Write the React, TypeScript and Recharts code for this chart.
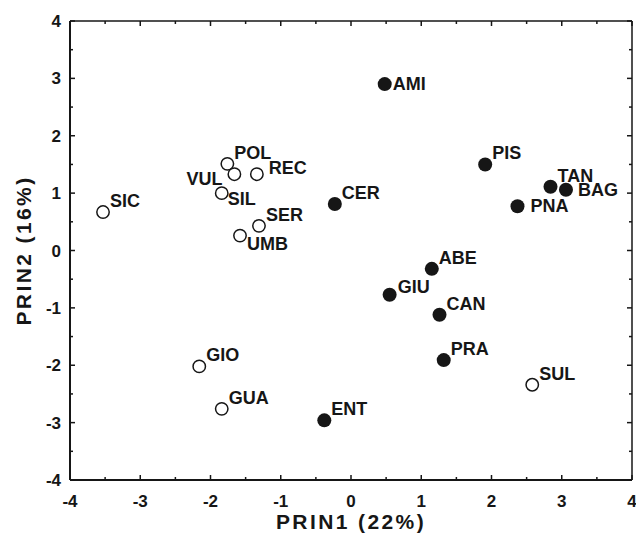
import React from 'react';
import { ScatterChart, Scatter, XAxis, YAxis } from 'recharts';

// sites plotted with open circles
const openSites = ['SIC', 'POL', 'VUL', 'REC', 'SIL', 'SER', 'UMB', 'GIO', 'GUA', 'SUL'];
const openPrin1 = [-3.53, -1.76, -1.66, -1.34, -1.84, -1.31, -1.58, -2.16, -1.84, 2.58];
const openPrin2 = [0.67, 1.51, 1.33, 1.33, 1.0, 0.43, 0.26, -2.02, -2.76, -2.34];

// sites plotted with filled circles
const filledSites = ['AMI', 'PIS', 'TAN', 'BAG', 'PNA', 'CER', 'ABE', 'GIU', 'CAN', 'PRA', 'ENT'];
const filledPrin1 = [0.48, 1.91, 2.84, 3.06, 2.37, -0.23, 1.15, 0.55, 1.26, 1.32, -0.38];
const filledPrin2 = [2.9, 1.5, 1.11, 1.06, 0.77, 0.81, -0.32, -0.77, -1.12, -1.91, -2.96];

const axisTicks = [-4, -3.5, -3, -2.5, -2, -1.5, -1, -0.5, 0, 0.5, 1, 1.5, 2, 2.5, 3, 3.5, 4];

const openData = openSites.map((name, i) => ({ name, x: openPrin1[i], y: openPrin2[i] }));
const filledData = filledSites.map((name, i) => ({ name, x: filledPrin1[i], y: filledPrin2[i] }));

const FONT = '"Liberation Sans", Arial, Helvetica, sans-serif';
const INK = '#161616';

// where each name sits relative to its marker
const labelSpots: Record<string, { dx: number; dy: number; anchor?: 'start' | 'end' }> = {
  VUL: { dx: -12, dy: 11, anchor: 'end' },
  REC: { dx: 12, dy: 0 },
  SIL: { dx: 6, dy: 12 },
  UMB: { dx: 7, dy: 14 },
  AMI: { dx: 8, dy: 6 },
  BAG: { dx: 12, dy: 6 },
  PNA: { dx: 13, dy: 6 },
  GIU: { dx: 8, dy: -2 },
};
const defaultSpot = { dx: 7, dy: -5 };

const siteLabel = (cx: number, cy: number, name: string) => {
  const s = labelSpots[name] || defaultSpot;
  return (
    <text
      x={cx + s.dx}
      y={cy + s.dy}
      textAnchor={s.anchor || 'start'}
      fontFamily={FONT}
      fontWeight="bold"
      fontSize={18}
      fill={INK}
    >
      {name}
    </text>
  );
};

const OpenDot = (props: any) => {
  const { cx, cy, payload } = props;
  return (
    <g>
      <circle cx={cx} cy={cy} r={6.2} fill="#fff" stroke={INK} strokeWidth={1.5} />
      {siteLabel(cx, cy, payload.name)}
    </g>
  );
};

const FilledDot = (props: any) => {
  const { cx, cy, payload } = props;
  return (
    <g>
      <circle cx={cx} cy={cy} r={7} fill={INK} />
      {siteLabel(cx, cy, payload.name)}
    </g>
  );
};

const tickText = { fontFamily: FONT, fontWeight: 'bold' as const, fontSize: 17, fill: INK };

const BottomTick = (props: any) => {
  const { x, y, payload } = props;
  const major = Number.isInteger(payload.value);
  return (
    <g>
      <line x1={x} x2={x} y1={y} y2={y - (major ? 5 : 3)} stroke={INK} strokeWidth={1.5} />
      {major && (
        <text x={x} y={y + 27} textAnchor="middle" {...tickText}>
          {payload.value}
        </text>
      )}
    </g>
  );
};

const TopTick = (props: any) => {
  const { x, y, payload } = props;
  const major = Number.isInteger(payload.value);
  return <line x1={x} x2={x} y1={y} y2={y + (major ? 5 : 3)} stroke={INK} strokeWidth={1.5} />;
};

const LeftTick = (props: any) => {
  const { x, y, payload } = props;
  const major = Number.isInteger(payload.value);
  return (
    <g>
      <line x1={x} x2={x + (major ? 5 : 3)} y1={y} y2={y} stroke={INK} strokeWidth={1.5} />
      {major && (
        <text x={x - 9} y={y + 6} textAnchor="end" {...tickText}>
          {payload.value}
        </text>
      )}
    </g>
  );
};

const RightTick = (props: any) => {
  const { x, y, payload } = props;
  const major = Number.isInteger(payload.value);
  return <line x1={x} x2={x - (major ? 5 : 3)} y1={y} y2={y} stroke={INK} strokeWidth={1.5} />;
};

const XTitle = (props: any) => {
  const { viewBox } = props;
  return (
    <text
      x={viewBox.x + viewBox.width / 2}
      y={529}
      textAnchor="middle"
      fontFamily={FONT}
      fontWeight="bold"
      fontSize={21}
      letterSpacing={2.4}
      fill={INK}
    >
      PRIN1 (22%)
    </text>
  );
};

const YTitle = (props: any) => {
  const { viewBox } = props;
  const cy = viewBox.y + viewBox.height / 2;
  return (
    <text
      x={31}
      y={cy}
      transform={`rotate(-90, 31, ${cy})`}
      textAnchor="middle"
      fontFamily={FONT}
      fontWeight="bold"
      fontSize={21}
      letterSpacing={2.4}
      fill={INK}
    >
      PRIN2 (16%)
    </text>
  );
};

export default function App() {
  return (
    <div style={{ position: 'absolute', left: 0, top: 0, background: '#fff' }}>
      <ScatterChart width={636} height={533} margin={{ top: 20, right: 3, bottom: 0, left: 0 }}>
        <XAxis
          type="number"
          dataKey="x"
          domain={[-4, 4]}
          ticks={axisTicks}
          interval={0}
          allowDataOverflow
          height={53}
          axisLine={{ stroke: INK, strokeWidth: 2 }}
          tickLine={false}
          tickSize={0}
          tickMargin={0}
          tick={<BottomTick />}
          label={<XTitle />}
        />
        {/* frame axes: a zero-size axis is not drawn, so they get 1px */}
        <XAxis
          xAxisId="top"
          orientation="top"
          type="number"
          dataKey="x"
          domain={[-4, 4]}
          ticks={axisTicks}
          interval={0}
          allowDataOverflow
          height={1}
          axisLine={{ stroke: INK, strokeWidth: 1.5 }}
          tickLine={false}
          tickSize={0}
          tickMargin={0}
          tick={<TopTick />}
        />
        <YAxis
          type="number"
          dataKey="y"
          domain={[-4, 4]}
          ticks={axisTicks}
          interval={0}
          allowDataOverflow
          width={70}
          axisLine={{ stroke: INK, strokeWidth: 2 }}
          tickLine={false}
          tickSize={0}
          tickMargin={0}
          tick={<LeftTick />}
          label={<YTitle />}
        />
        <YAxis
          yAxisId="right"
          orientation="right"
          type="number"
          dataKey="y"
          domain={[-4, 4]}
          ticks={axisTicks}
          interval={0}
          allowDataOverflow
          width={1}
          axisLine={{ stroke: INK, strokeWidth: 1.5 }}
          tickLine={false}
          tickSize={0}
          tickMargin={0}
          tick={<RightTick />}
        />
        <Scatter data={openData} shape={<OpenDot />} isAnimationActive={false} />
        {/* same [-4, 4] domains as the main axes */}
        <Scatter
          data={filledData}
          xAxisId="top"
          yAxisId="right"
          shape={<FilledDot />}
          isAnimationActive={false}
        />
      </ScatterChart>
    </div>
  );
}
